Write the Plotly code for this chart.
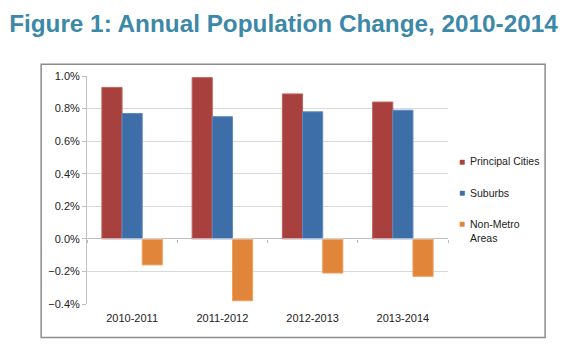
import plotly.graph_objects as go

categories = ["2010-2011", "2011-2012", "2012-2013", "2013-2014"]
principal_cities = [0.0093, 0.0099, 0.0089, 0.0084]
suburbs = [0.0077, 0.0075, 0.0078, 0.0079]
non_metro = [-0.0016, -0.0038, -0.0021, -0.0023]
series_names = ["Principal Cities", "Suburbs", "Non-Metro<br>Areas"]
y_ticks = [-0.004, -0.002, 0.0, 0.002, 0.004, 0.006, 0.008, 0.010]

fills = ["#A8403E", "#3E6EA8", "#E0853A"]
edges = ["#C0605C", "#5A88C0", "#F0A060"]

fig = go.Figure()
for name, vals, fc, ec in zip(series_names, [principal_cities, suburbs, non_metro], fills, edges):
    fig.add_trace(go.Bar(x=categories, y=vals, name=name.replace("<br>", " "), showlegend=False,
                         marker=dict(color=fc, line=dict(color=ec, width=1))))

# boundary tick marks on zero line
fig.add_trace(go.Bar(x=categories, y=[0, 0, 0, 0], xaxis="x2", showlegend=False,
                     hoverinfo="skip", marker=dict(color="rgba(0,0,0,0)")))

# legend drawn as annotations (small square keys, Excel style)
legend_y_text = [0.627, 0.487, 0.32]
legend_y_key = [0.627, 0.487, 0.351]
annotations = []
for name, fc, yt, yk in zip(series_names, fills, legend_y_text, legend_y_key):
    annotations.append(dict(xref="paper", yref="paper", x=1.040, y=yk, xanchor="center",
                            yanchor="middle", text="■", showarrow=False,
                            font=dict(size=10, color=fc)))
    annotations.append(dict(xref="paper", yref="paper", x=1.055, y=yt, xanchor="left",
                            yanchor="middle", text=name, showarrow=False, align="left",
                            font=dict(size=10.5, color="#222222")))

font_main = "Liberation Sans, Arial, sans-serif"
fig.update_layout(
    width=568, height=347,
    margin=dict(l=79, r=128, t=68, b=51),
    paper_bgcolor="white", plot_bgcolor="white",
    barmode="group", bargap=0.33, bargroupgap=0,
    showlegend=False,
    font=dict(family=font_main, size=11, color="#222222"),
    title=dict(text="<b>Figure 1: Annual Population Change, 2010-2014</b>",
               x=0.002, xanchor="left", y=0.955, yanchor="middle",
               font=dict(family=font_main, size=24.3, color="#3C88A8")),
    xaxis=dict(type="category", showgrid=False, showline=False, ticks="",
               tickfont=dict(size=11, color="#222222"), ticklabelstandoff=6),
    xaxis2=dict(type="category", overlaying="x", anchor="free", position=0.2857,
                tickson="boundaries", ticks="outside", ticklen=3, tickcolor="#BBBBBB",
                showticklabels=False, showgrid=False, showline=False, matches="x"),
    yaxis=dict(range=[-0.004, 0.010], tickvals=y_ticks, tickformat=".1%",
               showgrid=True, gridcolor="#D9D9D9", gridwidth=1,
               zeroline=True, zerolinecolor="#BFBFBF", zerolinewidth=1,
               showline=True, linecolor="#BFBFBF", linewidth=1,
               ticks="outside", ticklen=4, tickcolor="#BFBFBF",
               tickfont=dict(size=11, color="#222222")),
    annotations=annotations,
    shapes=[dict(type="rect", xref="paper", yref="paper",
                 x0=-0.127, x1=1.269, y0=-0.147, y1=1.051,
                 line=dict(color="#8C8C8C", width=1.5), layer="below")],
)

fig.write_html("out.html")
